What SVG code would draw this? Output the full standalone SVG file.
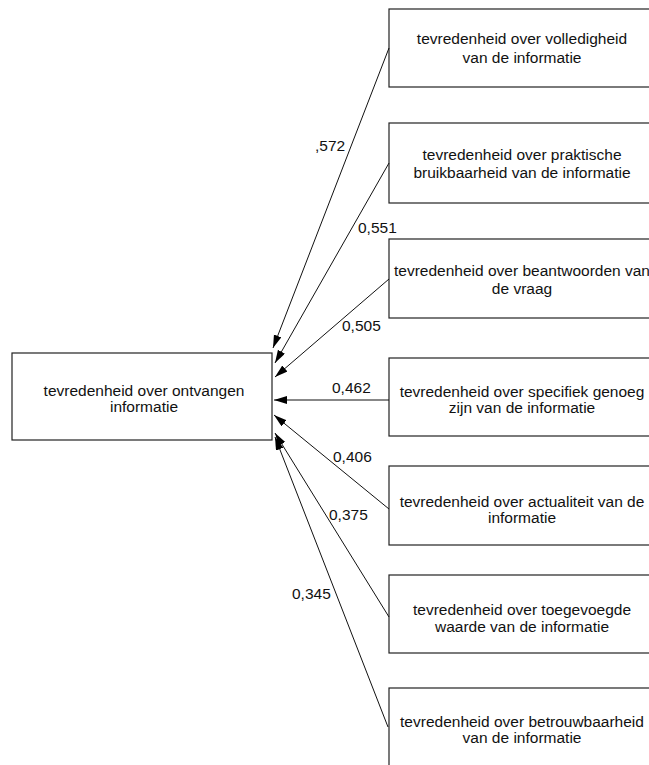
<svg xmlns="http://www.w3.org/2000/svg" width="649" height="765" viewBox="0 0 649 765">
<style>
.box{fill:#fff;stroke:#222;stroke-width:1.2}
.t{font-family:"Liberation Sans",Arial,sans-serif;font-size:15.5px;fill:#111;text-anchor:middle}
.l{font-family:"Liberation Sans",Arial,sans-serif;font-size:15.5px;fill:#111}
.c{stroke:#111;stroke-width:1;fill:none;marker-end:url(#ah)}
</style>
<defs>
<marker id="ah" markerUnits="userSpaceOnUse" markerWidth="14" markerHeight="10" refX="13" refY="4" orient="auto">
<path d="M0,0 L13,4 L0,8 z" fill="#000"/>
</marker>
</defs>
<rect width="649" height="765" fill="#fff"/>
<g id="main">
<rect class="box" x="12" y="353" width="260" height="87"/>
<text class="t" x="144" y="395.5">tevredenheid over ontvangen</text>
<text class="t" x="144" y="412">informatie</text>
</g>
<g id="n1">
<rect class="box" x="389" y="9" width="266" height="78"/>
<text class="t" x="522" y="44">tevredenheid over volledigheid</text>
<text class="t" x="522" y="63">van de informatie</text>
</g>
<g id="n2">
<rect class="box" x="389" y="123" width="266" height="80"/>
<text class="t" x="522" y="160">tevredenheid over praktische</text>
<text class="t" x="522" y="178">bruikbaarheid van de informatie</text>
</g>
<g id="n3">
<rect class="box" x="389" y="239" width="266" height="79"/>
<text class="t" x="522" y="276">tevredenheid over beantwoorden van</text>
<text class="t" x="522" y="294">de vraag</text>
</g>
<g id="n4">
<rect class="box" x="389" y="358" width="266" height="78"/>
<text class="t" x="522" y="396.5">tevredenheid over specifiek genoeg</text>
<text class="t" x="522" y="413">zijn van de informatie</text>
</g>
<g id="n5">
<rect class="box" x="389" y="466" width="266" height="79"/>
<text class="t" x="522" y="506.5">tevredenheid over actualiteit van de</text>
<text class="t" x="522" y="523">informatie</text>
</g>
<g id="n6">
<rect class="box" x="389" y="575" width="266" height="78"/>
<text class="t" x="522" y="615">tevredenheid over toegevoegde</text>
<text class="t" x="522" y="632">waarde van de informatie</text>
</g>
<g id="n7">
<rect class="box" x="389" y="688" width="266" height="80"/>
<text class="t" x="522" y="726.5">tevredenheid over betrouwbaarheid</text>
<text class="t" x="522" y="743">van de informatie</text>
</g>
<g id="connectors">
<line class="c" x1="389" y1="48" x2="273" y2="348"/>
<line class="c" x1="389" y1="163" x2="275" y2="363"/>
<line class="c" x1="389" y1="279" x2="275" y2="377"/>
<line class="c" x1="389" y1="400" x2="274" y2="400"/>
<line class="c" x1="389" y1="509" x2="274" y2="415"/>
<line class="c" x1="389" y1="617" x2="275" y2="433"/>
<line class="c" x1="388" y1="727" x2="275" y2="437"/>
<text class="l" x="315" y="151">,572</text>
<text class="l" x="358" y="233">0,551</text>
<text class="l" x="342" y="331">0,505</text>
<text class="l" x="332" y="393">0,462</text>
<text class="l" x="333" y="462">0,406</text>
<text class="l" x="329" y="520">0,375</text>
<text class="l" x="292" y="599">0,345</text>
</g>
</svg>
